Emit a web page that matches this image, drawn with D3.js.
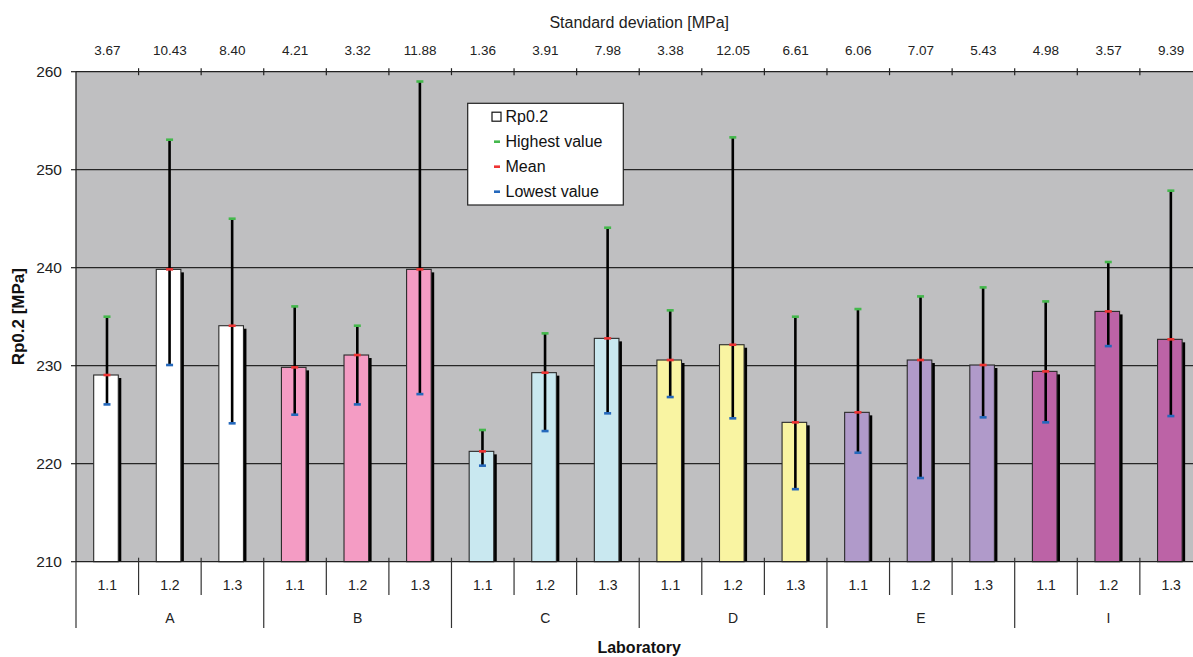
<!DOCTYPE html>
<html><head><meta charset="utf-8">
<script src="https://cdn.jsdelivr.net/npm/d3@7/dist/d3.min.js"></script>
<style>html,body{margin:0;padding:0;background:#fff;overflow:hidden}svg{display:block;font-family:"Liberation Sans",Arial,sans-serif}</style>
</head><body>
<svg id="c" width="1193" height="657"></svg>
<script>
const labs = ["A","B","C","D","E","I"];
const subs = ["1.1","1.2","1.3"];
const labColors = ["#FFFFFF","#F49CC4","#C9E8F0","#F9F4A2","#B09ACA","#BC63A6"];
const means = [229.05,239.83,234.08, 229.83,231.09,239.83, 221.26,229.29,232.79, 230.58,232.14,224.22, 225.24,230.58,230.07, 229.42,235.54,232.69];
const highs = [235.0,253.06,245.0, 236.05,234.08,259.0, 223.44,233.3,244.08, 235.65,253.3,235.0, 235.78,237.07,237.99, 236.56,240.58,247.86];
const lows  = [226.05,230.07,224.12, 225.0,226.05,227.1, 219.8,223.33,225.14, 226.8,224.63,217.4, 221.12,218.54,224.73, 224.22,232.0,224.86];
const stdDevs = ["3.67","10.43","8.40","4.21","3.32","11.88","1.36","3.91","7.98","3.38","12.05","6.61","6.06","7.07","5.43","4.98","3.57","9.39"];
const yTicks = [210,220,230,240,250,260];
const gridTicks = [220,230,240,250];
const legendItems = ["Rp0.2","Highest value","Mean","Lowest value"];
const legendColors = [null,"#44B84C","#EE3333","#2468BC"];

const rows = [];
labs.forEach((l,i)=>subs.forEach((s,j)=>{const k=i*3+j;rows.push({key:l+s,lab:l,sub:s,li:i,mean:means[k],high:highs[k],low:lows[k],sd:stdDevs[k]});}));

const svg = d3.select("#c");
const L=76, T=71.7, B=561.7, R=76+18*62.58;
const x = d3.scaleBand().domain(rows.map(d=>d.key)).range([L,R]).padding(0);
const y = d3.scaleLinear().domain([210,260]).range([B,T]);
const bw = x.bandwidth();

// plot background
svg.append("rect").attr("x",L).attr("y",T).attr("width",R-L).attr("height",B-T).attr("fill","#BFBFC1");
// gridlines
svg.selectAll("line.grid").data(gridTicks).join("line")
  .attr("x1",L).attr("x2",R).attr("y1",d=>y(d)).attr("y2",d=>y(d))
  .attr("stroke","#262626").attr("stroke-width",1.3);

// bars with shadow
const bL = -13.6, bW = 24.6;
svg.selectAll("rect.sh").data(rows).join("rect")
  .attr("x",d=>x(d.key)+bw/2+bL+3).attr("y",d=>y(d.mean)+3)
  .attr("width",bW).attr("height",d=>B-y(d.mean)-3).attr("fill","#000");
svg.selectAll("rect.bar").data(rows).join("rect")
  .attr("x",d=>x(d.key)+bw/2+bL).attr("y",d=>y(d.mean))
  .attr("width",bW).attr("height",d=>B-y(d.mean))
  .attr("fill",d=>labColors[d.li]).attr("stroke","#2a2a2a").attr("stroke-width",1.1);

// error lines
const cx = d=>x(d.key)+bw/2-0.3;
svg.selectAll("line.err").data(rows).join("line")
  .attr("x1",cx).attr("x2",cx).attr("y1",d=>y(d.low)).attr("y2",d=>y(d.high))
  .attr("stroke","#000").attr("stroke-width",2.6);
[["high",legendColors[1]],["mean",legendColors[2]],["low",legendColors[3]]].forEach(([k,c])=>{
  svg.selectAll("rect.m"+k).data(rows).join("rect")
    .attr("x",d=>cx(d)-3.5).attr("y",d=>y(d[k])-1.3).attr("width",7).attr("height",2.6).attr("fill",c);
});

// left axis
svg.append("line").attr("x1",L).attr("x2",L).attr("y1",T).attr("y2",B).attr("stroke","#222").attr("stroke-width",1.3);
svg.selectAll("line.yt").data(yTicks).join("line")
  .attr("x1",L-5).attr("x2",L).attr("y1",d=>y(d)).attr("y2",d=>y(d)).attr("stroke","#222").attr("stroke-width",1.2);
svg.selectAll("text.yl").data(yTicks).join("text")
  .attr("x",62).attr("y",d=>y(d)).attr("dy","0.36em").attr("text-anchor","end")
  .attr("font-size",15.5).attr("fill","#222").text(d=>d);
svg.append("text").attr("transform",`translate(24,${(T+B)/2}) rotate(-90)`).attr("text-anchor","middle")
  .attr("font-size",17).attr("font-weight","bold").attr("fill","#111").text("Rp0.2 [MPa]");

// top axis
svg.append("line").attr("x1",L).attr("x2",R).attr("y1",T).attr("y2",T).attr("stroke","#222").attr("stroke-width",1.3);
svg.selectAll("line.tt").data(rows.slice(1)).join("line")
  .attr("x1",d=>x(d.key)).attr("x2",d=>x(d.key)).attr("y1",T-3.5).attr("y2",T+3.5).attr("stroke","#222").attr("stroke-width",1.2);
svg.selectAll("text.sd").data(rows).join("text")
  .attr("x",d=>x(d.key)+bw/2).attr("y",55).attr("text-anchor","middle")
  .attr("font-size",13.5).attr("fill","#222").text(d=>d.sd);
svg.append("text").attr("x",(L+R)/2).attr("y",28).attr("text-anchor","middle")
  .attr("font-size",16).attr("fill","#222").text("Standard deviation [MPa]");

// bottom axis
svg.append("line").attr("x1",L).attr("x2",R).attr("y1",B).attr("y2",B).attr("stroke","#222").attr("stroke-width",1.3);
svg.selectAll("line.st").data(rows.filter(d=>d.sub!=="1.1")).join("line")
  .attr("x1",d=>x(d.key)).attr("x2",d=>x(d.key)).attr("y1",B-4).attr("y2",595).attr("stroke","#333").attr("stroke-width",1.2);
svg.selectAll("line.gt").data(labs).join("line")
  .attr("x1",d=>x(d+"1.1")).attr("x2",d=>x(d+"1.1")).attr("y1",(d,i)=>i===0?B:B-4).attr("y2",628).attr("stroke","#333").attr("stroke-width",1.2);
svg.selectAll("text.sub").data(rows).join("text")
  .attr("x",d=>x(d.key)+bw/2).attr("y",590).attr("text-anchor","middle")
  .attr("font-size",14).attr("fill","#222").text(d=>d.sub);
svg.selectAll("text.lab").data(labs).join("text")
  .attr("x",d=>x(d+"1.2")+bw/2).attr("y",623).attr("text-anchor","middle")
  .attr("font-size",14).attr("fill","#222").text(d=>d);
svg.append("text").attr("x",(L+R)/2).attr("y",653).attr("text-anchor","middle")
  .attr("font-size",16).attr("font-weight","bold").attr("fill","#111").text("Laboratory");

// legend
const lg = svg.append("g");
lg.append("rect").attr("x",467.7).attr("y",103.3).attr("width",155.6).attr("height",101.7).attr("fill","#fff").attr("stroke","#222").attr("stroke-width",1.2);
legendItems.forEach((t,i)=>{
  const cy = 116.7 + i*25;
  if(i===0){
    lg.append("rect").attr("x",492).attr("y",cy-4.5).attr("width",9).attr("height",9).attr("fill","#fff").attr("stroke","#111").attr("stroke-width",1.2);
  } else {
    lg.append("rect").attr("x",494).attr("y",cy-1.3).attr("width",6).attr("height",2.6).attr("fill",legendColors[i]);
  }
  lg.append("text").attr("x",505.5).attr("y",cy).attr("dy","0.36em").attr("font-size",16).attr("fill","#111").text(t);
});
</script>
</body></html>
